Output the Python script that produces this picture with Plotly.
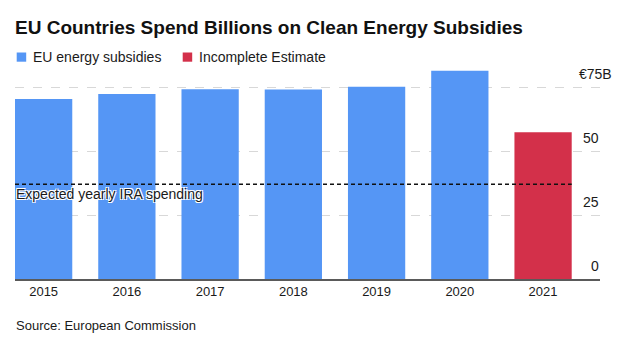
import plotly.graph_objects as go

# ---- data ----
years = ["2015", "2016", "2017", "2018", "2019", "2020", "2021"]
subsidies_bn_eur = [70.3, 72.3, 74.1, 74.0, 75.1, 81.3, 57.3]
is_incomplete = [False, False, False, False, False, False, True]
ira_yearly_bn = 37.0
y_tick_values = [0, 25, 50, 75]
y_tick_labels = ["0", "25", "50", "€75B"]

# ---- style ----
BLUE = "#5596f5"
RED = "#d3304a"
TEXT = "#1a1a1a"
FONT = "Liberation Sans, Arial, sans-serif"

W, H = 638, 348
M_L, M_R, M_T, M_B = 15, 38, 66, 69
PLOT_W = W - M_L - M_R
PLOT_H = H - M_T - M_B
BARGAP = 0.312
BAR_W = 1 - BARGAP
PX_PER_CAT = 83.24      # horizontal pixels per category slot
PX_PER_UNIT = 2.56      # vertical pixels per €1B
Y_MAX = PLOT_H / PX_PER_UNIT


def px(x):
    """pixel x -> paper x"""
    return (x - M_L) / PLOT_W


def py(y):
    """pixel y -> paper y"""
    return (H - M_B - y) / PLOT_H


colors = [RED if inc else BLUE for inc in is_incomplete]
x_idx = list(range(len(years)))

fig = go.Figure()
fig.add_trace(go.Bar(
    x=x_idx, y=subsidies_bn_eur,
    marker=dict(color=colors, line=dict(width=0)),
    showlegend=False, hoverinfo="skip",
))

# first bar starts flush with the left edge of the plot area
x_lo = x_idx[0] - BAR_W / 2
x_hi = x_lo + PLOT_W / PX_PER_CAT

fig.update_layout(
    width=W, height=H,
    margin=dict(l=M_L, r=M_R, t=M_T, b=M_B),
    paper_bgcolor="white", plot_bgcolor="white",
    bargap=BARGAP,
    font=dict(family=FONT, color=TEXT),
    title=dict(
        text="<b>EU Countries Spend Billions on Clean Energy Subsidies</b>",
        x=15 / W, xanchor="left", y=1 - 27 / H, yanchor="middle",
        xref="container", yref="container",
        font=dict(family=FONT, size=19, color="#111111"),
    ),
    xaxis=dict(
        range=[x_lo, x_hi],
        tickmode="array", tickvals=x_idx, ticktext=years,
        tickfont=dict(size=13, color=TEXT),
        showgrid=False, zeroline=False,
        showline=True, linecolor="#5a5a5a", linewidth=1.5,
        ticks="", ticklen=0,
    ),
    yaxis=dict(
        range=[0, Y_MAX],
        tickmode="array", tickvals=y_tick_values[1:],
        showticklabels=False,
        showgrid=True, gridcolor="#d8d8d8", griddash="dash", gridwidth=1,
        zeroline=False, showline=False,
    ),
)

# expected yearly IRA spending reference line
fig.add_shape(
    type="line", xref="x", yref="y",
    x0=x_idx[0] - BAR_W / 2, x1=x_idx[-1] + BAR_W / 2,
    y0=ira_yearly_bn, y1=ira_yearly_bn,
    line=dict(color="#111111", width=1.5, dash="4px,3px"),
    layer="above",
)
fig.add_annotation(
    xref="x", yref="y", x=x_idx[0] - BAR_W / 2, y=ira_yearly_bn,
    xanchor="left", yanchor="middle", yshift=-10, xshift=-1,
    text="Expected yearly IRA spending", showarrow=False,
    font=dict(size=14, color=TEXT,
              shadow="1px 1px 0 #fff, -1px -1px 0 #fff, 1px -1px 0 #fff, -1px 1px 0 #fff"),
)

# right-side value labels sitting above the gridlines
for v, lab in zip(y_tick_values, y_tick_labels):
    right_px = 614 if lab.endswith("B") else 601
    fig.add_annotation(
        xref="paper", yref="y", x=px(right_px), y=v,
        xanchor="right", yanchor="middle", yshift=13,
        text=lab, showarrow=False,
        font=dict(size=14, color=TEXT),
    )

# legend
legend_items = [("EU energy subsidies", BLUE, 16.7), ("Incomplete Estimate", RED, 182.7)]
for name, col, x0 in legend_items:
    fig.add_shape(
        type="rect", xref="paper", yref="paper",
        x0=px(x0), x1=px(x0 + 9.5), y0=py(61.7), y1=py(52.5),
        fillcolor=col, line=dict(width=0),
    )
    fig.add_annotation(
        xref="paper", yref="paper", x=px(x0 + 14.5), y=py(57),
        xanchor="left", yanchor="middle", text=name, showarrow=False,
        font=dict(size=14, color=TEXT),
    )

# source note
fig.add_annotation(
    xref="paper", yref="paper", x=px(14), y=py(325),
    xanchor="left", yanchor="middle", text="Source: European Commission",
    showarrow=False, font=dict(size=13, color=TEXT),
)

fig.write_html("out.html")
